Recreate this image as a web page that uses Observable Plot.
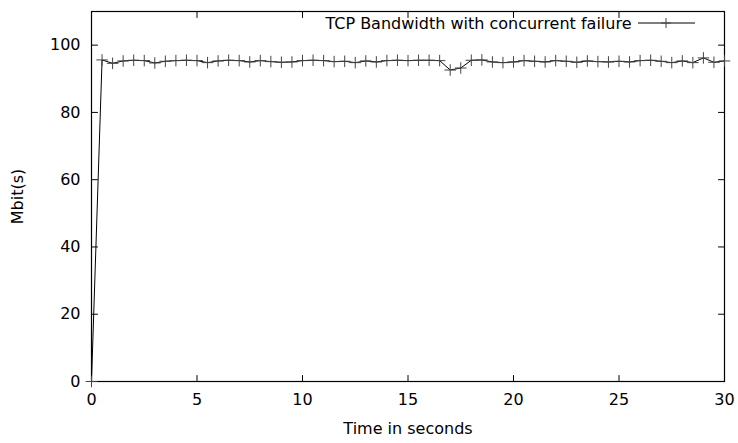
<!DOCTYPE html>
<html>
<head>
<meta charset="utf-8">
<script src="https://cdn.jsdelivr.net/npm/d3@7"></script>
<script src="https://cdn.jsdelivr.net/npm/@observablehq/plot@0.6"></script>
<style>
  html, body { margin: 0; padding: 0; background: white; }
  #chart { width: 738px; height: 443px; }
</style>
</head>
<body>
<div id="chart"></div>
<script>
const seriesName = "TCP Bandwidth with concurrent failure";
const xLabel = "Time in seconds";
const yLabel = "Mbit(s)";
const xTicks = [0, 5, 10, 15, 20, 25, 30];
const yTicks = [0, 20, 40, 60, 80, 100];
const times = [
  0, 0.5, 1, 1.5, 2, 2.5, 3, 3.5, 4, 4.5, 5, 5.5, 6, 6.5, 7, 7.5, 8, 8.5, 9, 9.5,
  10, 10.5, 11, 11.5, 12, 12.5, 13, 13.5, 14, 14.5, 15, 15.5, 16, 16.5, 17, 17.5,
  18, 18.5, 19, 19.5, 20, 20.5, 21, 21.5, 22, 22.5, 23, 23.5, 24, 24.5, 25, 25.5,
  26, 26.5, 27, 27.5, 28, 28.5, 29, 29.5, 30
];
const bandwidth = [
  0, 95.6, 94.6, 95.3, 95.5, 95.4, 94.7, 95.2, 95.4, 95.5, 95.4, 94.8, 95.3, 95.5, 95.4, 95.0, 95.4, 95.1, 94.9, 95.0,
  95.4, 95.5, 95.4, 95.1, 95.2, 94.8, 95.3, 95.0, 95.4, 95.5, 95.4, 95.5, 95.5, 95.4, 92.6, 93.2,
  95.5, 95.6, 95.0, 94.8, 95.0, 95.4, 95.2, 95.0, 95.4, 95.2, 94.9, 95.3, 95.1, 95.0, 95.2, 95.0,
  95.4, 95.5, 95.2, 94.8, 95.3, 94.8, 96.2, 94.9, 95.3
];

const data = times.map((t, i) => ({t, v: bandwidth[i]}));

// plain straight tick shape for vectors (no arrowhead)
const tickShape = {draw(context, l) { context.moveTo(0, 0); context.lineTo(0, -l); }};

const plot = Plot.plot({
  width: 738,
  height: 443,
  marginLeft: 91,
  marginRight: 14,
  marginTop: 11,
  marginBottom: 62,
  style: {fontFamily: "'DejaVu Sans', sans-serif", fontSize: "16px", background: "white", color: "black", overflow: "visible"},
  x: {domain: [0, 30]},
  y: {domain: [0, 110]},
  marks: [
    Plot.axisX({ticks: xTicks, tickSize: 0, tickPadding: 12, tickFormat: d => String(d), label: xLabel, labelAnchor: "center", labelArrow: "none", labelOffset: 52, fontSize: 16}),
    Plot.axisY({ticks: yTicks, tickSize: 0, tickPadding: 11, tickFormat: d => String(d), label: yLabel, labelAnchor: "center", labelArrow: "none", labelOffset: 80, fontSize: 16}),
    Plot.vector(xTicks, {x: d => d, frameAnchor: "bottom", length: 6, rotate: 0, anchor: "start", shape: tickShape, stroke: "black", strokeWidth: 1}),
    Plot.vector(xTicks, {x: d => d, frameAnchor: "top", length: 6, rotate: 180, anchor: "start", shape: tickShape, stroke: "black", strokeWidth: 1}),
    Plot.vector(yTicks, {y: d => d, frameAnchor: "left", length: 6, rotate: 90, anchor: "start", shape: tickShape, stroke: "black", strokeWidth: 1}),
    Plot.vector(yTicks, {y: d => d, frameAnchor: "right", length: 6, rotate: -90, anchor: "start", shape: tickShape, stroke: "black", strokeWidth: 1}),
    Plot.frame({stroke: "black", strokeWidth: 1.2}),
    Plot.line(data, {x: "t", y: "v", stroke: "black", strokeWidth: 1}),
    Plot.dot(data, {x: "t", y: "v", symbol: "plus", r: 3.8, stroke: "#444", strokeWidth: 1}),
    Plot.text([seriesName], {frameAnchor: "top-right", dx: -93, dy: 12, textAnchor: "end", lineAnchor: "middle", fontSize: 16, fill: "black"})
  ]
});

document.getElementById("chart").appendChild(plot);

// legend sample (line with plus marker)
const svg = d3.select(plot);
const g = svg.append("g").attr("stroke", "black").attr("fill", "none");
const lx0 = 638, lx1 = 695, ly = 23, cx = 666;
g.append("line").attr("x1", lx0).attr("x2", lx1).attr("y1", ly).attr("y2", ly).attr("stroke-width", 1);
g.append("path").attr("d", `M${cx - 5},${ly}H${cx + 5}M${cx},${ly - 5}V${ly + 5}`).attr("stroke", "#444").attr("stroke-width", 1);
</script>
</body>
</html>
